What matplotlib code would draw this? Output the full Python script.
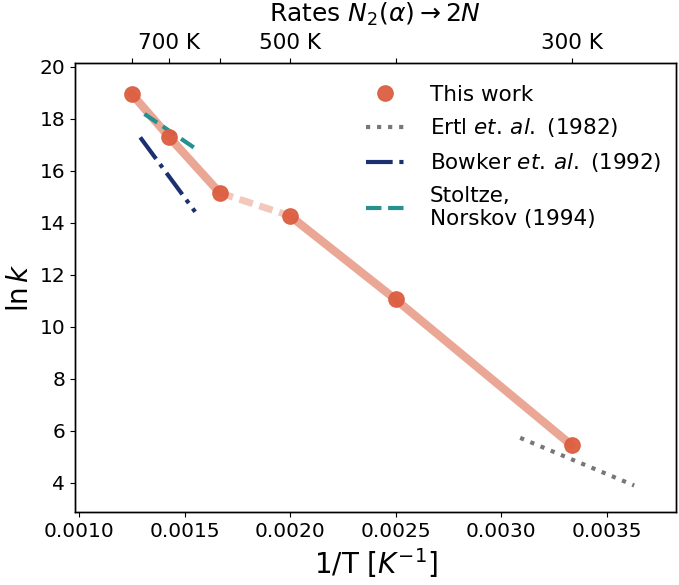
import matplotlib
matplotlib.use("Agg")
import matplotlib.pyplot as plt
import numpy as np

# Daten
T_this = [800, 700, 600, 500, 400, 300]
lnk_this = [18.95, 17.28, 15.15, 14.26, 11.05, 5.45]

invT_ertl = [0.00309, 0.00363]
lnk_ertl = [5.73, 3.90]

invT_bowker = [0.00129, 0.00155]
lnk_bowker = [17.28, 14.42]

invT_stoltze = [0.00131, 0.00155]
lnk_stoltze = [18.18, 16.86]

top_T = [800, 700, 600, 500, 400, 300]
top_labels = ['', '700 K', '', '500 K', '', '300 K']

invT_this = 1.0 / np.array(T_this)
lnk = np.array(lnk_this)

fig = plt.figure(figsize=(6.79, 5.85), dpi=100)
ax = fig.add_axes([0.1105, 0.1248, 0.885, 0.7675])

line_col = '#eba796'
mark_col = '#dd5e40'

# Linie "This work": durchgezogen, gestrichelt zwischen 600 K und 500 K
ax.plot(invT_this[:3], lnk[:3], color=line_col, lw=6, solid_capstyle='round', zorder=2)
ax.plot(invT_this[2:4], lnk[2:4], color='#f3c8bc', lw=5, dashes=(2, 1), zorder=2)
ax.plot(invT_this[3:], lnk[3:], color=line_col, lw=6, solid_capstyle='round', zorder=2)
ax.plot(invT_this, lnk, 'o', color=mark_col, ms=11, alpha=0.95, zorder=3, label='This work')

ax.plot(invT_ertl, lnk_ertl, ls=':', color='#777777', lw=3, label=r'Ertl $et.\,al.$ (1982)')
ax.plot(invT_bowker, lnk_bowker, ls='-.', color='#1c2f6e', lw=3, label=r'Bowker $et.\,al.$ (1992)')
ax.plot(invT_stoltze, lnk_stoltze, ls='--', color='#26908f', lw=3, label='Stoltze,\nNorskov (1994)')

ax.set_xlim(0.000981, 0.003828)
ax.set_ylim(2.88, 20.14)
ax.set_yticks(np.arange(4, 21, 2))
ax.set_xticks([0.0010, 0.0015, 0.0020, 0.0025, 0.0030, 0.0035])
ax.set_xticklabels(['0.0010', '0.0015', '0.0020', '0.0025', '0.0030', '0.0035'])
ax.tick_params(labelsize=14.5)
ax.set_xlabel(r'1/T [$K^{-1}$]', fontsize=20)
ax.set_ylabel(r'$\ln k$', fontsize=20)

# obere Achse mit Temperaturen
ax2 = ax.twiny()
ax2.set_xlim(ax.get_xlim())
ax2.set_xticks(1.0 / np.array(top_T))
ax2.set_xticklabels(top_labels)
ax2.tick_params(labelsize=15.5)
ax2.set_xlabel(r'Rates $N_2(\alpha) \rightarrow 2N$', fontsize=18, labelpad=8)

for a in (ax, ax2):
    for s in a.spines.values():
        s.set_linewidth(1.0)

ax.legend(loc='upper left', bbox_to_anchor=(0.47, 0.971), frameon=False,
          fontsize=15.5, handlelength=1.75, handletextpad=1.2,
          labelspacing=0.55, borderaxespad=0)

fig.savefig('out.png', dpi=100)
